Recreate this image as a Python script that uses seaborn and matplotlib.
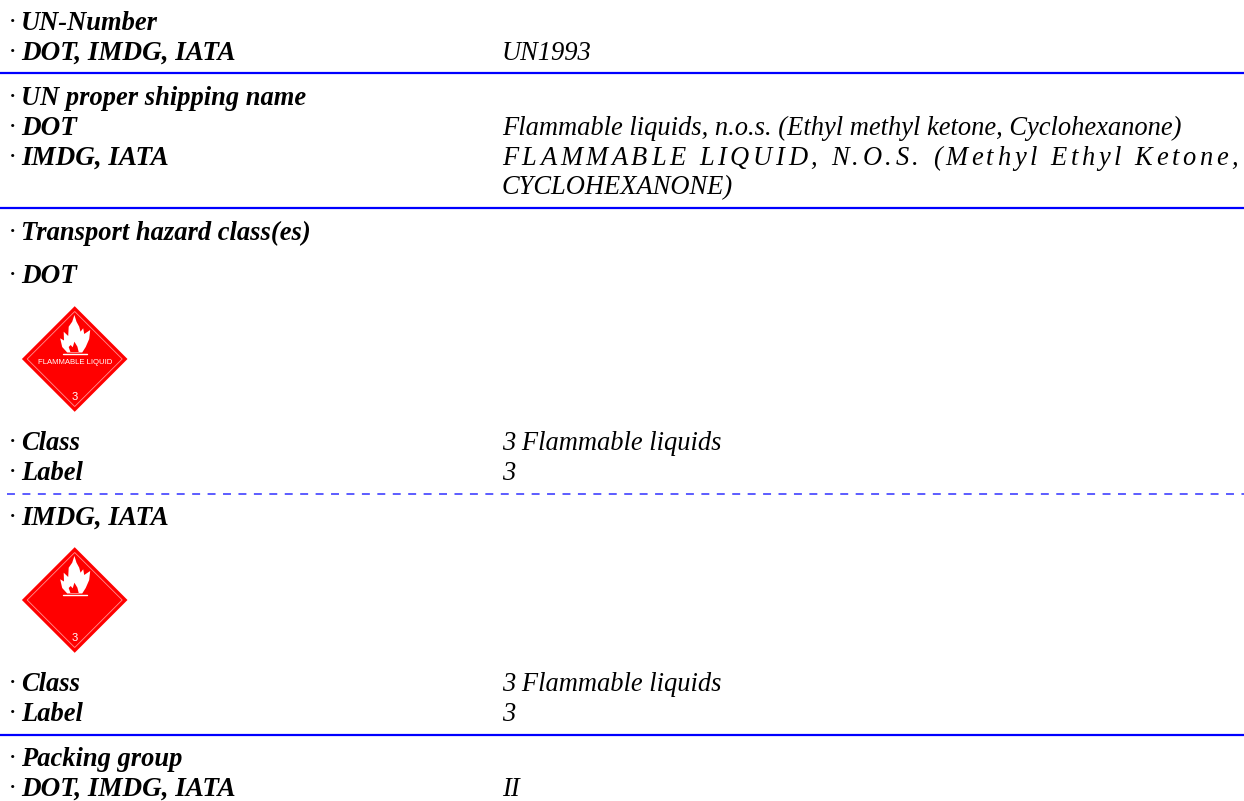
import pandas as pd
import seaborn as sns
import matplotlib.pyplot as plt
from matplotlib.patches import Polygon
from matplotlib.font_manager import FontProperties, findfont, get_font
from matplotlib.ft2font import LoadFlags

# page text
left_labels = ["UN-Number", "DOT, IMDG, IATA", "UN proper shipping name", "DOT", "IMDG, IATA",
               "Transport hazard class(es)", "DOT", "Class", "Label", "IMDG, IATA",
               "Class", "Label", "Packing group", "DOT, IMDG, IATA"]
left_y = [30, 60, 105, 135, 165, 240, 283, 450, 480, 525, 691, 721, 766, 796]

right_labels = ["UN1993", "Flammable liquids, n.o.s. (Ethyl methyl ketone, Cyclohexanone)",
                "CYCLOHEXANONE)", "3 Flammable liquids", "3", "3 Flammable liquids", "3", "II"]
right_y = [60, 135, 194, 450, 480, 691, 721, 796]

justified_line = "FLAMMABLE LIQUID, N.O.S. (Methyl Ethyl Ketone,"
justified_y = 165

# horizontal rules
solid_rules = [73, 208, 735]
dashed_rules = [493.7]

# diamonds
diamond_centers = [359, 600]
diamond_texts = ["FLAMMABLE LIQUID", ""]

# flame outline, px from the diamond centre
flame_outer = [(-0.3, -44), (1.8, -37.3), (4.5, -32.3), (5.8, -27.3), (8.5, -30.7), (9.5, -25),
               (15.5, -29), (14.5, -20), (11, -12), (7.5, -6.5), (-7.5, -6.5), (-12.5, -12),
               (-14.5, -20.7), (-10.7, -18.5), (-11, -27.3), (-6.5, -23), (-6, -32.3), (-2.5, -37.3)]
flame_inner = [(-4.3, -7), (-6, -12), (-4, -14), (-2, -11.7), (-0.3, -17.3), (2.7, -12.3), (4, -7)]
flame_bar = [(-11.3, -4.7), (12.7, -4.7)]

BOLD_SIZE = 19.1
CAPS_SIZE = 19.5
TEXT_SIZE = 19.1
sns.set_style("white")
plt.rcParams['font.family'] = ['Liberation Serif', 'DejaVu Serif']
plt.rcParams['text.color'] = 'black'


def spaced_text(ax, s, x, y, width, fp):
    # no letter spacing in matplotlib, so set the glyphs one at a time
    font = get_font(findfont(fp))
    font.set_size(fp.get_size_in_points(), 100)
    adv = [font.load_char(ord(c), flags=LoadFlags.NO_HINTING).linearHoriAdvance / 65536 for c in s]
    extra = (width - sum(adv)) / (len(s) - 1)
    pos = x
    for c, a in zip(s, adv):
        ax.text(pos, y, c, fontproperties=fp, color='black', va='baseline', ha='left')
        pos += a + extra


fig, ax = plt.subplots(figsize=(12.44, 8.01), dpi=100)
ax.set_position([0, 0, 1, 1])

rules = pd.DataFrame({
    'x': [0, 1244] * len(solid_rules),
    'y': [y for y in solid_rules for _ in range(2)],
    'rule': [y for y in solid_rules for _ in range(2)],
})
sns.lineplot(data=rules, x='x', y='y', units='rule', estimator=None, sort=False,
             color='#0000ff', linewidth=1.6, ax=ax)
dashes = pd.DataFrame({'x': [7, 1244] * len(dashed_rules),
                       'y': [y for y in dashed_rules for _ in range(2)]})
sns.lineplot(data=dashes, x='x', y='y', estimator=None, sort=False, color='#3030ff',
             linewidth=1.1, linestyle=(0, (5.2, 4.9)), dash_capstyle='butt', ax=ax)

ax.set_xlim(0, 1244)
ax.set_ylim(801, 0)
ax.axis('off')

for label, y in zip(left_labels, left_y):
    ax.text(9, y, "·", family='Liberation Serif', style='italic', fontsize=TEXT_SIZE, va='baseline')
    # the source has no kerning in the capitals, a bit more size makes up for it
    size = CAPS_SIZE if label.isupper() else BOLD_SIZE
    ax.text(21, y, label, family='Liberation Serif', style='italic', weight='bold',
            fontsize=size, va='baseline')

for label, y in zip(right_labels, right_y):
    ax.text(502, y, label, family='Liberation Serif', style='italic', fontsize=TEXT_SIZE, va='baseline')

spaced_text(ax, justified_line, 502, justified_y, 736,
            FontProperties(family='Liberation Serif', style='italic', size=TEXT_SIZE))

cx = 74.7
R = 52.8
r = 47.5
for cy, tag in zip(diamond_centers, diamond_texts):
    ax.add_patch(Polygon([(cx, cy - R), (cx + R, cy), (cx, cy + R), (cx - R, cy)], closed=True,
                         fc='#ff0000', ec='none'))
    ax.add_patch(Polygon([(cx, cy - r), (cx + r, cy), (cx, cy + r), (cx - r, cy)], closed=True,
                         fc='none', ec='#ff9090', lw=0.6))
    ax.add_patch(Polygon([(cx + a, cy + b) for a, b in flame_outer], closed=True, fc='white', ec='none'))
    ax.add_patch(Polygon([(cx + a, cy + b) for a, b in flame_inner], closed=True, fc='#ff0000', ec='none'))
    ax.plot([cx + a for a, b in flame_bar], [cy + b for a, b in flame_bar], color='white', lw=1.0)
    ax.text(cx + 0.8, cy + 3.7, tag, family='Liberation Sans', fontsize=5.6, color='white',
            ha='center', va='center')
    ax.text(cx, cy + 37.7, "3", family='Liberation Sans', fontsize=8, color='white',
            ha='center', va='center')

plt.savefig("out.png", dpi=100)
plt.close()
